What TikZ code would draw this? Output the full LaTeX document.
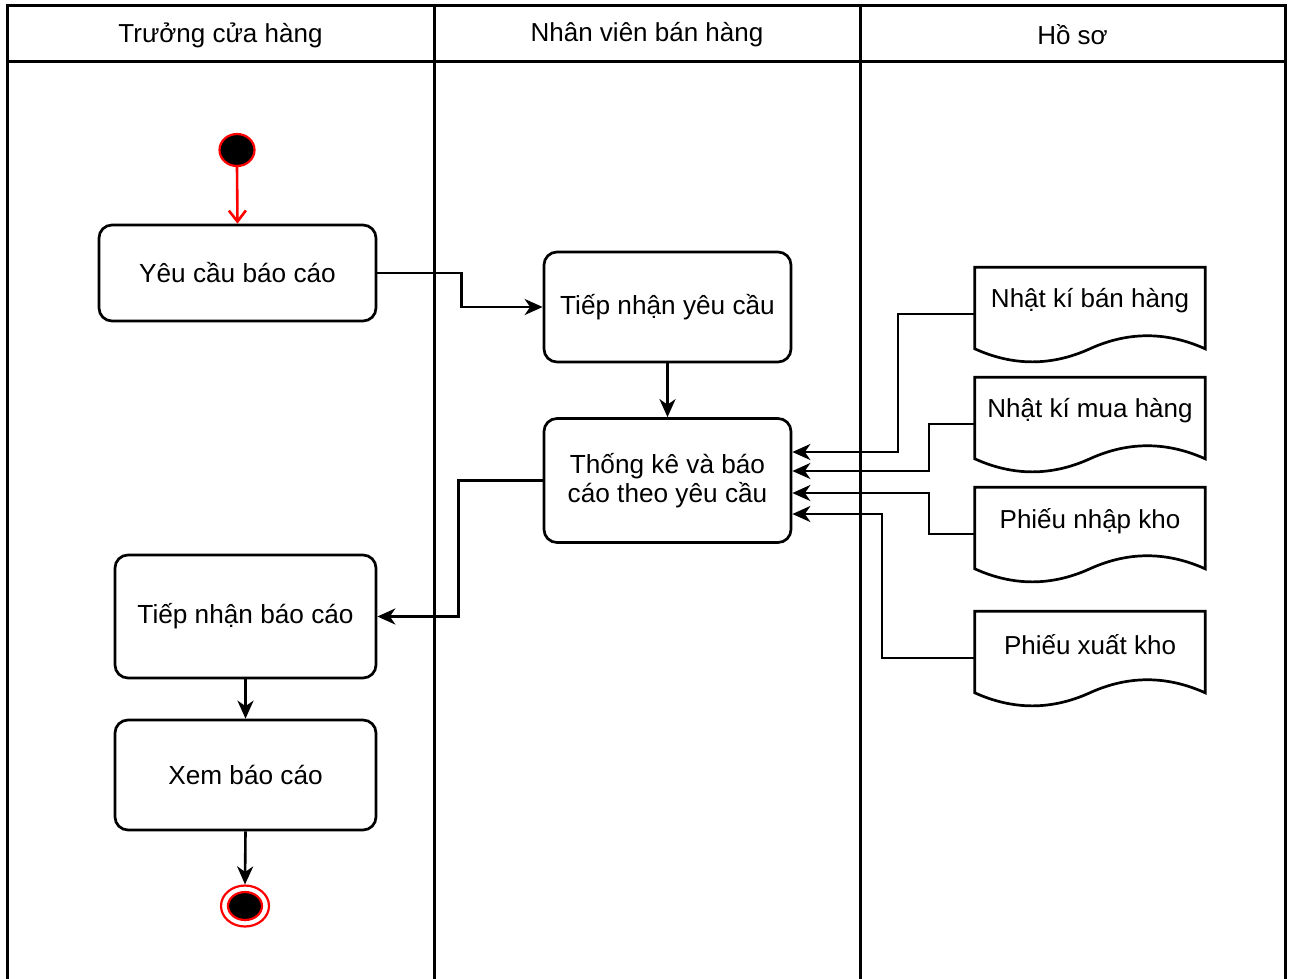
\documentclass[tikz,border=0pt]{standalone}
\usepackage{fontspec}
\setmainfont{Liberation Sans}
\usetikzlibrary{arrows.meta,shapes.geometric}
\tikzset{
  lane/.style={line width=3pt},
  hdr/.style={font=\fontsize{26}{30}\selectfont},
  act/.style={draw, line width=2.7pt, rounded corners=13pt, align=center, inner sep=0pt,
              font=\fontsize{26.2}{28.5}\selectfont},
  doctext/.style={draw=none, minimum width=230pt, minimum height=67pt, inner sep=0pt,
              align=center, font=\fontsize{26}{29}\selectfont},
  docline/.style={line width=2.7pt, line join=miter},
  arr/.style={line width=2.6pt, -{Stealth[length=18pt,width=16pt,inset=5.5pt]}},
  startarr/.style={line width=2.6pt, red, -{Straight Barb[length=11pt,width=17pt]}},
}
\newcommand{\docpath}[1]{%
  \draw[docline] (#1.north west) -- (#1.north east) -- ([shift={(0,81.5)}]#1.north east)
    .. controls ([shift={(191.7,64.1)}]#1.north west) and ([shift={(153.3,64.1)}]#1.north west) ..
    ([shift={(115,81.5)}]#1.north west)
    .. controls ([shift={(76.7,98.9)}]#1.north west) and ([shift={(38.3,98.9)}]#1.north west) ..
    ([shift={(0,81.5)}]#1.north west) -- cycle;}
\begin{document}
\begin{tikzpicture}[x=1pt,y=-1pt]
\useasboundingbox (0,0) rectangle (1289,978);
% swimlanes
\draw[lane] (7,5) rectangle (1285,61);
\draw[lane] (7,5) -- (7,980);
\draw[lane] (434,5) -- (434,980);
\draw[lane] (860,5) -- (860,980);
\draw[lane] (1285,5) -- (1285,980);
\node[hdr] (h1) at (220.5,35) {Trưởng cửa hàng};
\node[hdr] (h2) at (647,35) {Nhân viên bán hàng};
\node[hdr] (h3) at (1072.5,35) {Hồ sơ};
% start / end
\node[ellipse, draw=red, fill=black, line width=2.2pt, minimum width=35pt, minimum height=32pt, inner sep=0pt] (ini) at (237,150) {};
\node[ellipse, draw=red, fill=white, line width=2.2pt, minimum width=48pt, minimum height=41pt, inner sep=0pt] (fin) at (245,906) {};
\node[ellipse, draw=red, fill=black, line width=2.2pt, minimum width=34pt, minimum height=28pt, inner sep=0pt] (finin) at (245,906) {};
% activities
\node[act, minimum width=277pt, minimum height=96pt] (a1) at (237.5,273) {Yêu cầu báo cáo};
\node[act, minimum width=247pt, minimum height=110pt] (a2) at (667.5,307) {Tiếp nhận yêu cầu};
\node[act, minimum width=247pt, minimum height=124pt] (a3) at (667.5,480.5) {Thống kê và báo\\cáo theo yêu cầu};
\node[act, minimum width=261pt, minimum height=123pt] (a4) at (245.5,616.5) {Tiếp nhận báo cáo};
\node[act, minimum width=261pt, minimum height=110pt] (a5) at (245.5,775) {Xem báo cáo};
% documents
\node[doctext] (d1) at (1090,301) {Nhật kí bán hàng};
\node[doctext] (d2) at (1090,411) {Nhật kí mua hàng};
\node[doctext] (d3) at (1090,521) {Phiếu nhập kho};
\node[doctext] (d4) at (1090,645) {Phiếu xuất kho};
\docpath{d1}\docpath{d2}\docpath{d3}\docpath{d4}
% connectors
\draw[startarr] (ini.south) -- (a1.north);
\draw[arr] (a1.east) -- ++(84,0) |- (a2.west);
\draw[arr] (a2.south) -- (a3.north);
\draw[arr] (a3.west) -- ++(-84,0) |- (a4.east);
\draw[arr] (a4.south) -- (a5.north);
\draw[arr] (a5.south) -- (fin.north);
\draw[arr] ([shift={(0,13)}]d1.west) -- ++(-77,0) |- ([shift={(0,-28.5)}]a3.east);
\draw[arr] ([shift={(0,13)}]d2.west) -- ++(-46,0) |- ([shift={(0,-9.5)}]a3.east);
\draw[arr] ([shift={(0,13)}]d3.west) -- ++(-46,0) |- ([shift={(0,12.5)}]a3.east);
\draw[arr] ([shift={(0,13)}]d4.west) -- ++(-93,0) |- ([shift={(0,33.5)}]a3.east);
\end{tikzpicture}
\end{document}
